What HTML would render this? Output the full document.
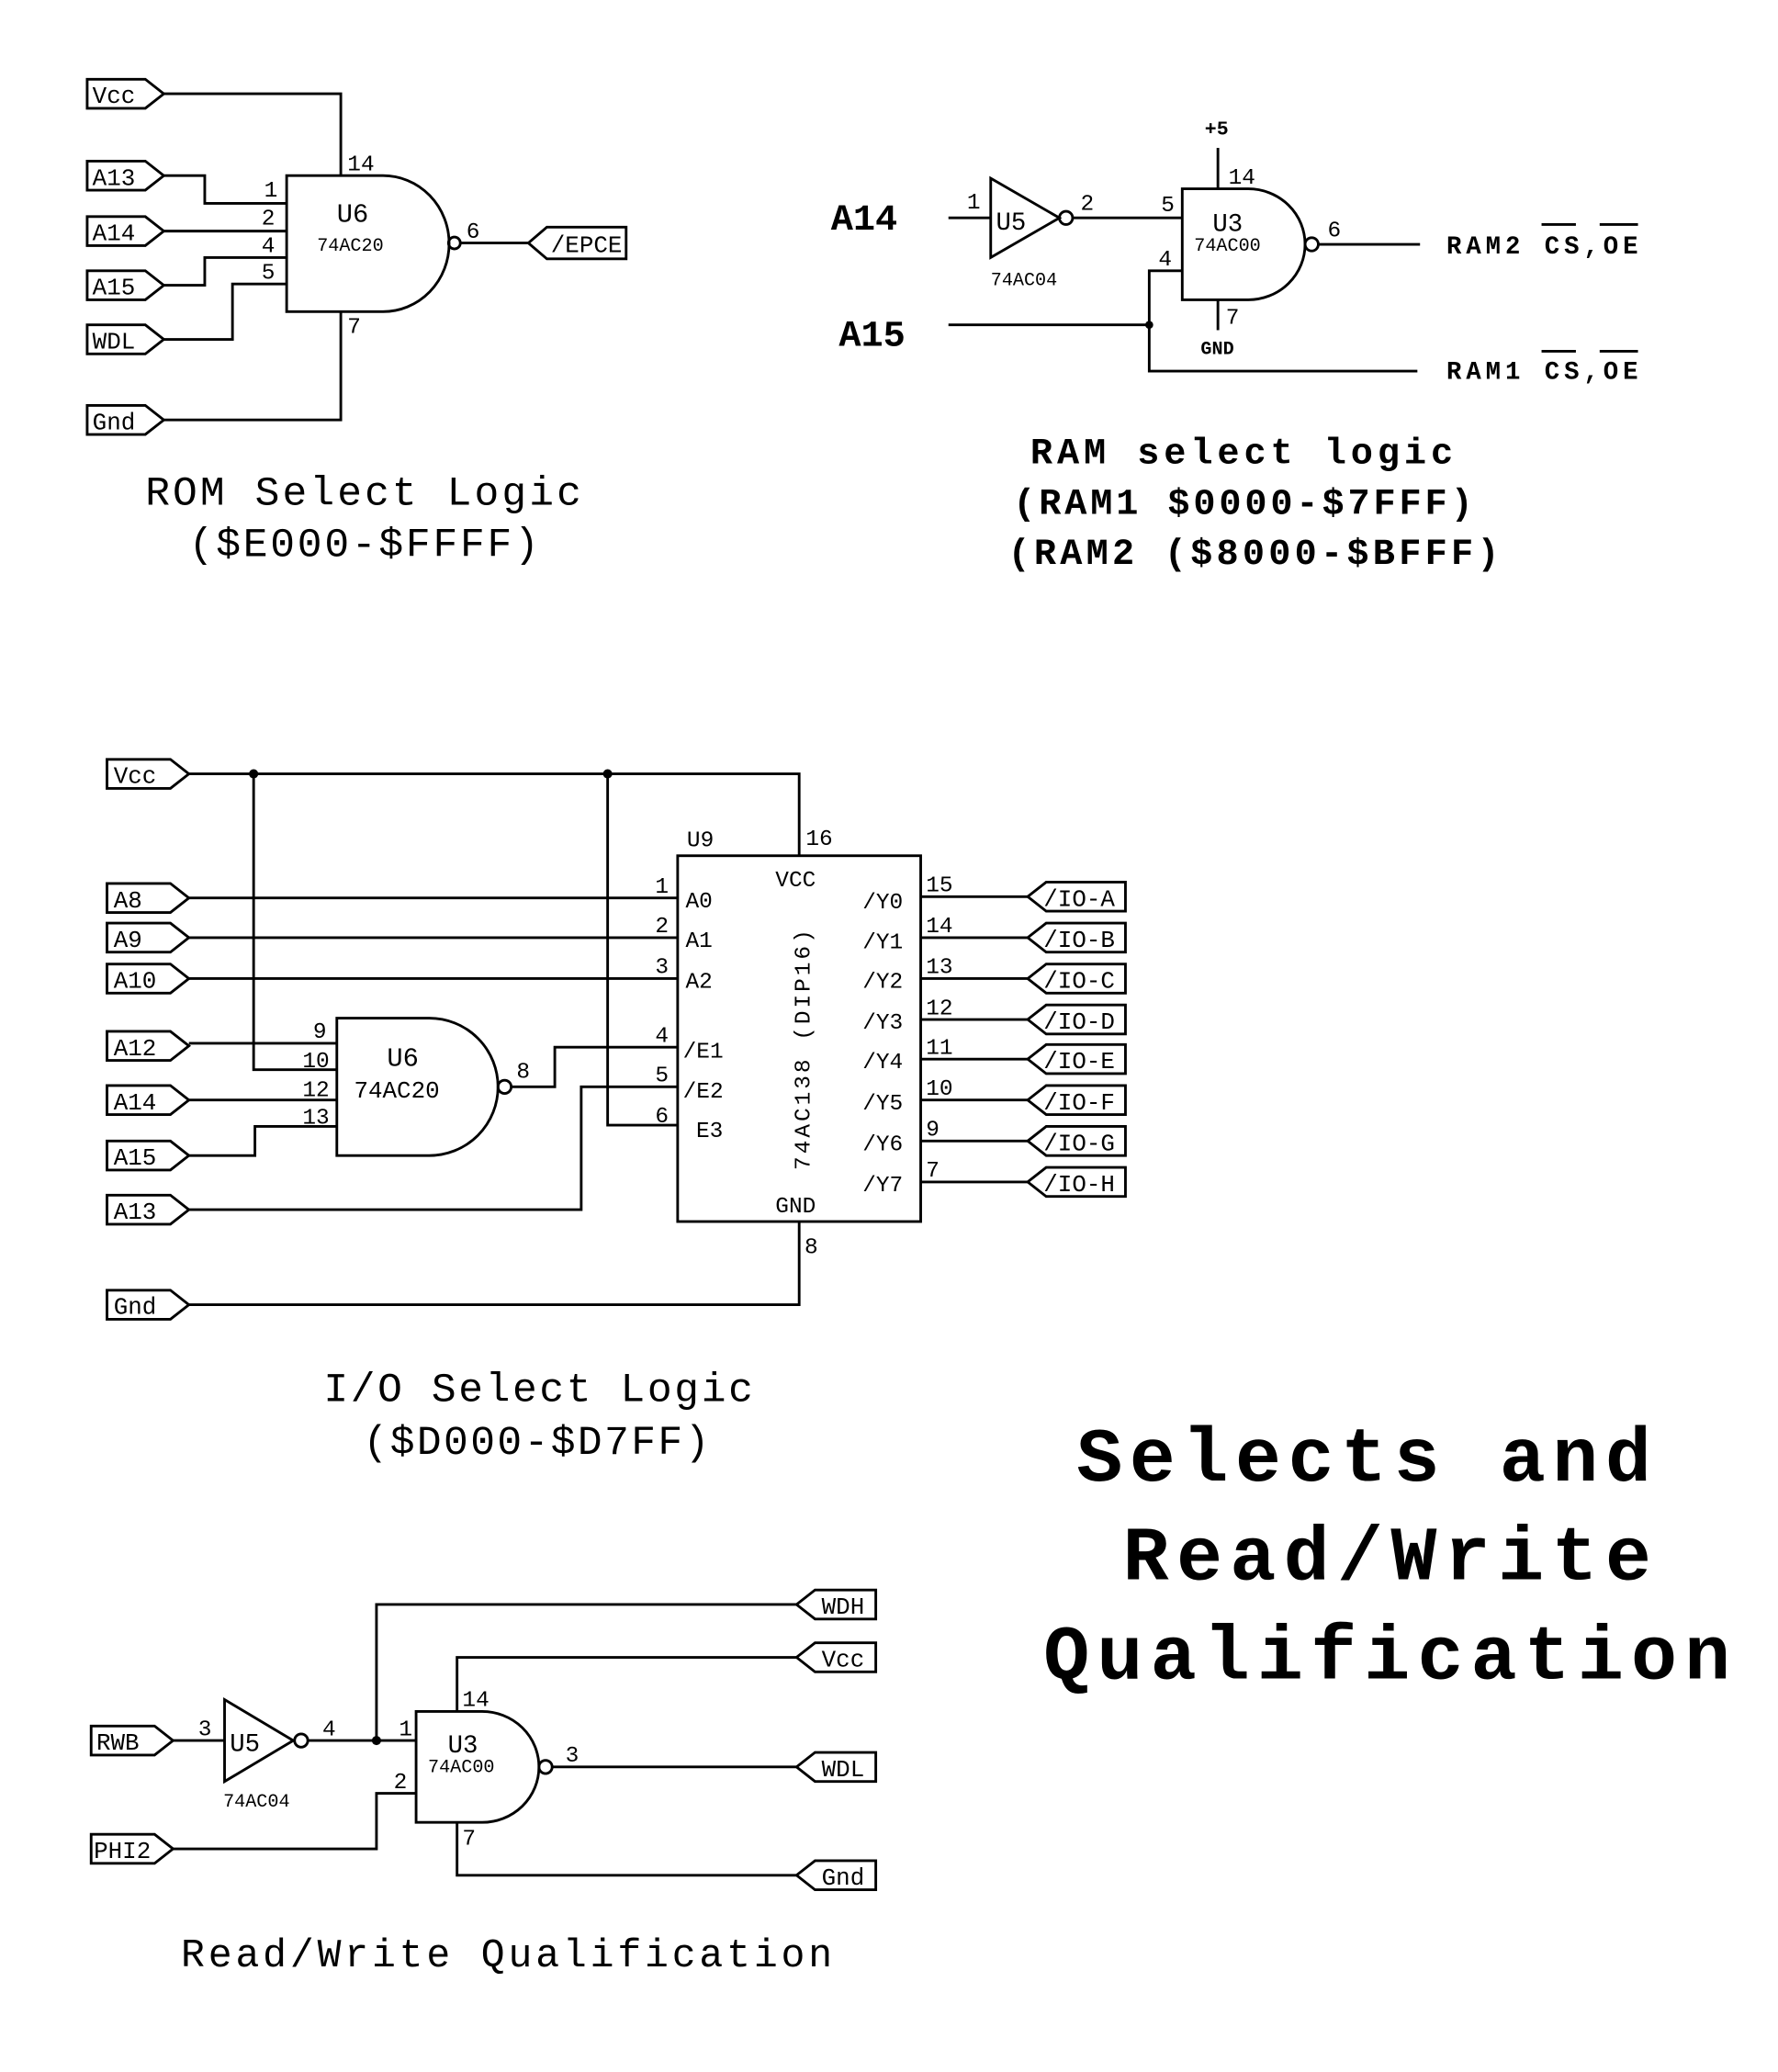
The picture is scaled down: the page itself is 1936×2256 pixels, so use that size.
<!DOCTYPE html>
<html><head><meta charset="utf-8"><style>
html,body{margin:0;padding:0;background:#fff;}
svg{display:block;}
text{font-family:"Liberation Mono",monospace;fill:#000;}
.t{font-size:18px;}
.p{font-size:17px;}
.s{font-size:14px;}
.b{font-weight:bold;}
</style></head><body>
<svg width="1936" height="2256" viewBox="0 0 1346 1569" preserveAspectRatio="none" xmlns="http://www.w3.org/2000/svg">
<g fill="none" stroke="#000" stroke-width="2">
<!-- ROM section -->
<polygon points="66,60 110,60 124,71 110,82 66,82"/>
<polygon points="66,122 110,122 124,133 110,144 66,144"/>
<polygon points="66,164 110,164 124,175 110,186 66,186"/>
<polygon points="66,205 110,205 124,216 110,227 66,227"/>
<polygon points="66,246 110,246 124,257 110,268 66,268"/>
<polygon points="66,307 110,307 124,318 110,329 66,329"/>
<polygon points="400,184 414,172 474,172 474,196 414,196"/>
<polyline points="124,71 258,71 258,133"/>
<path d="M290,133 L217,133 L217,236 L290,236 A50,51.5 0 0 0 290,133 Z"/>
<circle cx="344" cy="184" r="4.5"/>
<line x1="349" y1="184" x2="400" y2="184"/>
<polyline points="124,133 155,133 155,154 217,154"/>
<line x1="124" y1="175" x2="217" y2="175"/>
<polyline points="124,216 155,216 155,195 217,195"/>
<polyline points="124,257 176,257 176,215 217,215"/>
<polyline points="258,236 258,318 124,318"/>

<!-- RAM section -->
<line x1="718" y1="165" x2="750" y2="165"/>
<polygon points="750,135 750,195 802,165"/>
<circle cx="807" cy="165" r="5"/>
<line x1="812" y1="165" x2="895" y2="165"/>
<path d="M945,143 L895,143 L895,227 L945,227 A43,42 0 0 0 945,143 Z"/>
<circle cx="993" cy="185" r="5"/>
<line x1="998" y1="185" x2="1075" y2="185"/>
<line x1="922" y1="112" x2="922" y2="143"/>
<line x1="922" y1="227" x2="922" y2="250"/>
<polyline points="895,205 870,205 870,281 1073,281"/>
<line x1="718" y1="246" x2="870" y2="246"/>
<line x1="1167" y1="170" x2="1193" y2="170"/>
<line x1="1211" y1="170" x2="1240" y2="170"/>
<line x1="1167" y1="266" x2="1193" y2="266"/>
<line x1="1211" y1="266" x2="1240" y2="266"/>

<!-- I/O section -->
<polygon points="81,575 129,575 143,586 129,597 81,597"/>
<polygon points="81,669 129,669 143,680 129,691 81,691"/>
<polygon points="81,699 129,699 143,710 129,721 81,721"/>
<polygon points="81,730 129,730 143,741 129,752 81,752"/>
<polygon points="81,781 129,781 143,792 129,803 81,803"/>
<polygon points="81,822 129,822 143,833 129,844 81,844"/>
<polygon points="81,864 129,864 143,875 129,886 81,886"/>
<polygon points="81,905 129,905 143,916 129,927 81,927"/>
<polygon points="81,977 129,977 143,988 129,999 81,999"/>
<polyline points="143,586 605,586 605,648"/>
<polyline points="192,586 192,810 255,810"/>
<polyline points="460,586 460,852 513,852"/>
<rect x="513" y="648" width="184" height="277"/>
<line x1="143" y1="680" x2="513" y2="680"/>
<line x1="143" y1="710" x2="513" y2="710"/>
<line x1="143" y1="741" x2="513" y2="741"/>
<line x1="143" y1="790" x2="255" y2="790"/>
<line x1="143" y1="833" x2="255" y2="833"/>
<polyline points="143,875 193,875 193,853 255,853"/>
<path d="M325,771 L255,771 L255,875 L325,875 A52,52 0 0 0 325,771 Z"/>
<circle cx="382" cy="823" r="5"/>
<polyline points="387,823 420,823 420,793 513,793"/>
<polyline points="143,916 440,916 440,823 513,823"/>
<polyline points="605,925 605,988 143,988"/>
<line x1="697" y1="679" x2="778" y2="679"/>
<line x1="697" y1="710" x2="778" y2="710"/>
<line x1="697" y1="741" x2="778" y2="741"/>
<line x1="697" y1="772" x2="778" y2="772"/>
<line x1="697" y1="802" x2="778" y2="802"/>
<line x1="697" y1="833" x2="778" y2="833"/>
<line x1="697" y1="864" x2="778" y2="864"/>
<line x1="697" y1="895" x2="778" y2="895"/>
<polygon points="778,679 792,668 852,668 852,690 792,690"/>
<polygon points="778,710 792,699 852,699 852,721 792,721"/>
<polygon points="778,741 792,730 852,730 852,752 792,752"/>
<polygon points="778,772 792,761 852,761 852,783 792,783"/>
<polygon points="778,802 792,791 852,791 852,813 792,813"/>
<polygon points="778,833 792,822 852,822 852,844 792,844"/>
<polygon points="778,864 792,853 852,853 852,875 792,875"/>
<polygon points="778,895 792,884 852,884 852,906 792,906"/>

<!-- R/W section -->
<polygon points="69,1307 117,1307 131,1318 117,1329 69,1329"/>
<polygon points="69,1389 117,1389 131,1400 117,1411 69,1411"/>
<line x1="131" y1="1318" x2="170" y2="1318"/>
<polygon points="170,1287 170,1349 222,1318"/>
<circle cx="228" cy="1318" r="5"/>
<line x1="233" y1="1318" x2="315" y2="1318"/>
<polyline points="285,1318 285,1215 603,1215"/>
<path d="M365,1296 L315,1296 L315,1380 L365,1380 A43,42 0 0 0 365,1296 Z"/>
<circle cx="413" cy="1338" r="5"/>
<line x1="418" y1="1338" x2="603" y2="1338"/>
<polyline points="346,1296 346,1255 603,1255"/>
<polyline points="315,1358 285,1358 285,1400 131,1400"/>
<polyline points="346,1380 346,1420 603,1420"/>
<polygon points="603,1215 617,1204 663,1204 663,1226 617,1226"/>
<polygon points="603,1255 617,1244 663,1244 663,1266 617,1266"/>
<polygon points="603,1338 617,1327 663,1327 663,1349 617,1349"/>
<polygon points="603,1420 617,1409 663,1409 663,1431 617,1431"/>
</g>
<g fill="#000">
<circle cx="870" cy="246" r="3"/>
<circle cx="192" cy="586" r="3.5"/>
<circle cx="460" cy="586" r="3.5"/>
<circle cx="285" cy="1318" r="3.5"/>
</g>

<!-- ROM text -->
<text class="t" x="70" y="78">Vcc</text>
<text class="t" x="70" y="140">A13</text>
<text class="t" x="70" y="182">A14</text>
<text class="t" x="70" y="223">A15</text>
<text class="t" x="70" y="264">WDL</text>
<text class="t" x="70" y="325">Gnd</text>
<text class="t" x="417" y="191">/EPCE</text>
<text class="p" x="263" y="129">14</text>
<text class="p" x="263" y="252">7</text>
<text class="p" x="200" y="149">1</text>
<text class="p" x="198" y="170">2</text>
<text class="p" x="198" y="191">4</text>
<text class="p" x="198" y="211">5</text>
<text class="p" x="353" y="180">6</text>
<text x="255" y="168" style="font-size:20px">U6</text>
<text class="s" x="240" y="190">74AC20</text>
<text x="110" y="382" textLength="330" lengthAdjust="spacing" style="font-size:31px">ROM Select Logic</text>
<text x="143" y="421" textLength="265" lengthAdjust="spacing" style="font-size:31px">($E000-$FFFF)</text>

<!-- RAM text -->
<text class="b" x="629" y="174" style="font-size:28px">A14</text>
<text class="b" x="635" y="262" style="font-size:28px">A15</text>
<text class="p" x="732" y="158">1</text>
<text class="p" x="818" y="159">2</text>
<text x="754" y="174" style="font-size:19px">U5</text>
<text class="s" x="750" y="216">74AC04</text>
<text class="p" x="879" y="160">5</text>
<text class="p" x="877" y="201">4</text>
<text class="p" x="1005" y="179">6</text>
<text class="p" x="930" y="139">14</text>
<text class="p" x="928" y="245">7</text>
<text class="b" x="912" y="102" style="font-size:15px">+5</text>
<text class="b" x="909" y="268" style="font-size:14px">GND</text>
<text x="918" y="175" style="font-size:19px">U3</text>
<text class="s" x="904" y="190">74AC00</text>
<text class="b" x="1095" y="192" textLength="145" lengthAdjust="spacing" style="font-size:19px">RAM2 CS,OE</text>
<text class="b" x="1095" y="287" textLength="145" lengthAdjust="spacing" style="font-size:19px">RAM1 CS,OE</text>
<text class="b" x="780" y="351" textLength="320" lengthAdjust="spacing" style="font-size:28px">RAM select logic</text>
<text class="b" x="767" y="389" textLength="348" lengthAdjust="spacing" style="font-size:28px">(RAM1 $0000-$7FFF)</text>
<text class="b" x="763" y="427" textLength="372" lengthAdjust="spacing" style="font-size:28px">(RAM2 ($8000-$BFFF)</text>

<!-- I/O text -->
<text class="t" x="86" y="593">Vcc</text>
<text class="t" x="86" y="687">A8</text>
<text class="t" x="86" y="717">A9</text>
<text class="t" x="86" y="748">A10</text>
<text class="t" x="86" y="799">A12</text>
<text class="t" x="86" y="840">A14</text>
<text class="t" x="86" y="882">A15</text>
<text class="t" x="86" y="923">A13</text>
<text class="t" x="86" y="995">Gnd</text>
<text class="p" x="520" y="641">U9</text>
<text class="p" x="610" y="640">16</text>
<text class="p" x="587" y="671">VCC</text>
<text class="p" x="519" y="687">A0</text>
<text class="p" x="519" y="717">A1</text>
<text class="p" x="519" y="748">A2</text>
<text class="p" x="517" y="801">/E1</text>
<text class="p" x="517" y="831">/E2</text>
<text class="p" x="527" y="861">E3</text>
<text class="p" x="587" y="918">GND</text>
<text class="p" x="496" y="676">1</text>
<text class="p" x="496" y="706">2</text>
<text class="p" x="496" y="737">3</text>
<text class="p" x="496" y="789">4</text>
<text class="p" x="496" y="819">5</text>
<text class="p" x="496" y="850">6</text>
<text class="p" x="609" y="949">8</text>
<text class="p" x="237" y="786">9</text>
<text class="p" x="229" y="808">10</text>
<text class="p" x="229" y="830">12</text>
<text class="p" x="229" y="851">13</text>
<text class="p" x="391" y="816">8</text>
<text x="293" y="807" style="font-size:20px">U6</text>
<text x="268" y="831" style="font-size:18px">74AC20</text>
<text class="p" x="613" y="795" text-anchor="middle" transform="rotate(-90 613 795)" textLength="182" lengthAdjust="spacing">74AC138 (DIP16)</text>
<text class="p" x="653" y="688">/Y0</text>
<text class="p" x="653" y="718">/Y1</text>
<text class="p" x="653" y="748">/Y2</text>
<text class="p" x="653" y="779">/Y3</text>
<text class="p" x="653" y="809">/Y4</text>
<text class="p" x="653" y="840">/Y5</text>
<text class="p" x="653" y="871">/Y6</text>
<text class="p" x="653" y="902">/Y7</text>
<text class="p" x="701" y="675">15</text>
<text class="p" x="701" y="706">14</text>
<text class="p" x="701" y="737">13</text>
<text class="p" x="701" y="768">12</text>
<text class="p" x="701" y="798">11</text>
<text class="p" x="701" y="829">10</text>
<text class="p" x="701" y="860">9</text>
<text class="p" x="701" y="891">7</text>
<text class="t" x="790" y="686">/IO-A</text>
<text class="t" x="790" y="717">/IO-B</text>
<text class="t" x="790" y="748">/IO-C</text>
<text class="t" x="790" y="779">/IO-D</text>
<text class="t" x="790" y="809">/IO-E</text>
<text class="t" x="790" y="840">/IO-F</text>
<text class="t" x="790" y="871">/IO-G</text>
<text class="t" x="790" y="902">/IO-H</text>
<text x="245" y="1061" textLength="325" lengthAdjust="spacing" style="font-size:31px">I/O Select Logic</text>
<text x="275" y="1101" textLength="262" lengthAdjust="spacing" style="font-size:31px">($D000-$D7FF)</text>

<!-- Title -->
<text class="b" x="815" y="1121" textLength="435" lengthAdjust="spacing" style="font-size:58px">Selects and</text>
<text class="b" x="850" y="1196" textLength="400" lengthAdjust="spacing" style="font-size:58px">Read/Write</text>
<text class="b" x="790" y="1271" textLength="520" lengthAdjust="spacing" style="font-size:58px">Qualification</text>

<!-- R/W text -->
<text class="t" x="73" y="1325">RWB</text>
<text class="t" x="71" y="1407">PHI2</text>
<text class="t" x="622" y="1222">WDH</text>
<text class="t" x="622" y="1262">Vcc</text>
<text class="t" x="622" y="1345">WDL</text>
<text class="t" x="622" y="1427">Gnd</text>
<text class="p" x="150" y="1314">3</text>
<text class="p" x="244" y="1314">4</text>
<text x="174" y="1326" style="font-size:19px">U5</text>
<text class="s" x="169" y="1368">74AC04</text>
<text class="p" x="302" y="1314">1</text>
<text class="p" x="298" y="1354">2</text>
<text class="p" x="428" y="1334">3</text>
<text class="p" x="350" y="1292">14</text>
<text class="p" x="350" y="1397">7</text>
<text x="339" y="1327" style="font-size:19px">U3</text>
<text class="s" x="324" y="1342">74AC00</text>
<text x="137" y="1489" textLength="493" lengthAdjust="spacing" style="font-size:30px">Read/Write Qualification</text>
</svg>
</body></html>
